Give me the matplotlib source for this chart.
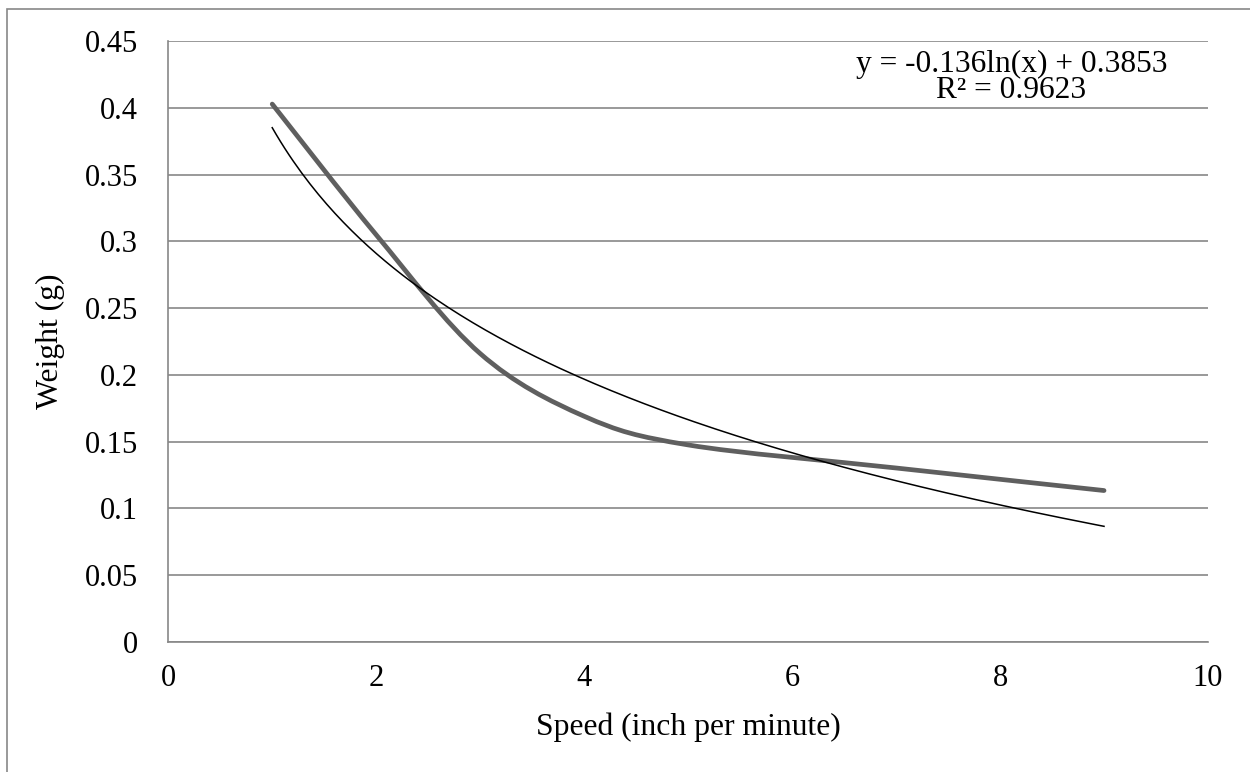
import numpy as np
import matplotlib
matplotlib.use("Agg")
from matplotlib import pyplot as plt
from matplotlib.path import Path
from matplotlib.patches import PathPatch, Rectangle

# measured data (smoothed line in the original)
speed = [1, 2, 3, 4, 5, 7, 9]
weight = [0.403, 0.305, 0.216, 0.169, 0.1475, 0.1302, 0.1133]

# logarithmic trendline as printed on the chart
trend_a = -0.136
trend_b = 0.3853
trend_text = "y = -0.136ln(x) + 0.3853\nR² = 0.9623"

y_ticks = [0, 0.05, 0.1, 0.15, 0.2, 0.25, 0.3, 0.35, 0.4, 0.45]
y_tick_labels = ["0", "0.05", "0.1", "0.15", "0.2", "0.25", "0.3", "0.35", "0.4", "0.45"]
x_ticks = [0, 2, 4, 6, 8, 10]

GRID = "#878787"
plt.rcParams['font.family'] = ['Liberation Serif', 'DejaVu Serif']


def smooth_path(xs, ys):
    """Excel-like smoothed line: Catmull-Rom segments as cubic Beziers."""
    pts = np.column_stack([xs, ys]).astype(float)
    verts = [pts[0]]
    codes = [Path.MOVETO]
    n = len(pts)
    for i in range(n - 1):
        p0 = pts[i - 1] if i > 0 else pts[i]
        p1 = pts[i]
        p2 = pts[i + 1]
        p3 = pts[i + 2] if i + 2 < n else pts[i + 1]
        c1 = p1 + (p2 - p0) / 6.0
        c2 = p2 - (p3 - p1) / 6.0
        verts += [c1, c2, p2]
        codes += [Path.CURVE4] * 3
    return Path(verts, codes)


fig = plt.figure(figsize=(12.5, 7.72), dpi=100)
ax = fig.add_axes([0.1346, 0.1688, 0.8318, 0.7776])

# outer chart frame (right/bottom edges fall outside the image)
fig.patches.append(Rectangle((7 / 1250, -0.05), 1.1, (772 - 9.3) / 772 + 0.05,
                             transform=fig.transFigure, fill=False,
                             edgecolor=GRID, linewidth=1.2))

ax.add_patch(PathPatch(smooth_path(speed, weight), fill=False,
                       edgecolor="#5f5f5f", linewidth=3.4,
                       capstyle="round", zorder=3))

xt = np.linspace(speed[0], speed[-1], 200)
ax.plot(xt, trend_a * np.log(xt) + trend_b, color="black", linewidth=1.1, zorder=4)

ax.set_xlim(0, 10)
ax.set_ylim(0, 0.45)
ax.set_xticks(x_ticks)
ax.set_xticklabels([str(v) for v in x_ticks])
ax.set_yticks(y_ticks)
ax.set_yticklabels(y_tick_labels)
ax.tick_params(length=0, labelsize=22, colors="black")
ax.tick_params(axis='y', pad=22)
ax.tick_params(axis='x', pad=16)

ax.grid(axis='y', color=GRID, linewidth=1.2)
ax.set_axisbelow(True)
for side in ['top', 'right']:
    ax.spines[side].set_visible(False)
for side in ['left', 'bottom']:
    ax.spines[side].set_color(GRID)
    ax.spines[side].set_linewidth(1.2)

ax.set_xlabel("Speed (inch per minute)", fontsize=22.8, labelpad=14)
ax.set_ylabel("Weight (g)", fontsize=22.8, labelpad=14)

ax.text(0.811, 0.94, trend_text, transform=ax.transAxes, ha='center', va='center',
        fontsize=22.6, linespacing=0.9)

fig.savefig("out.png", dpi=100)
